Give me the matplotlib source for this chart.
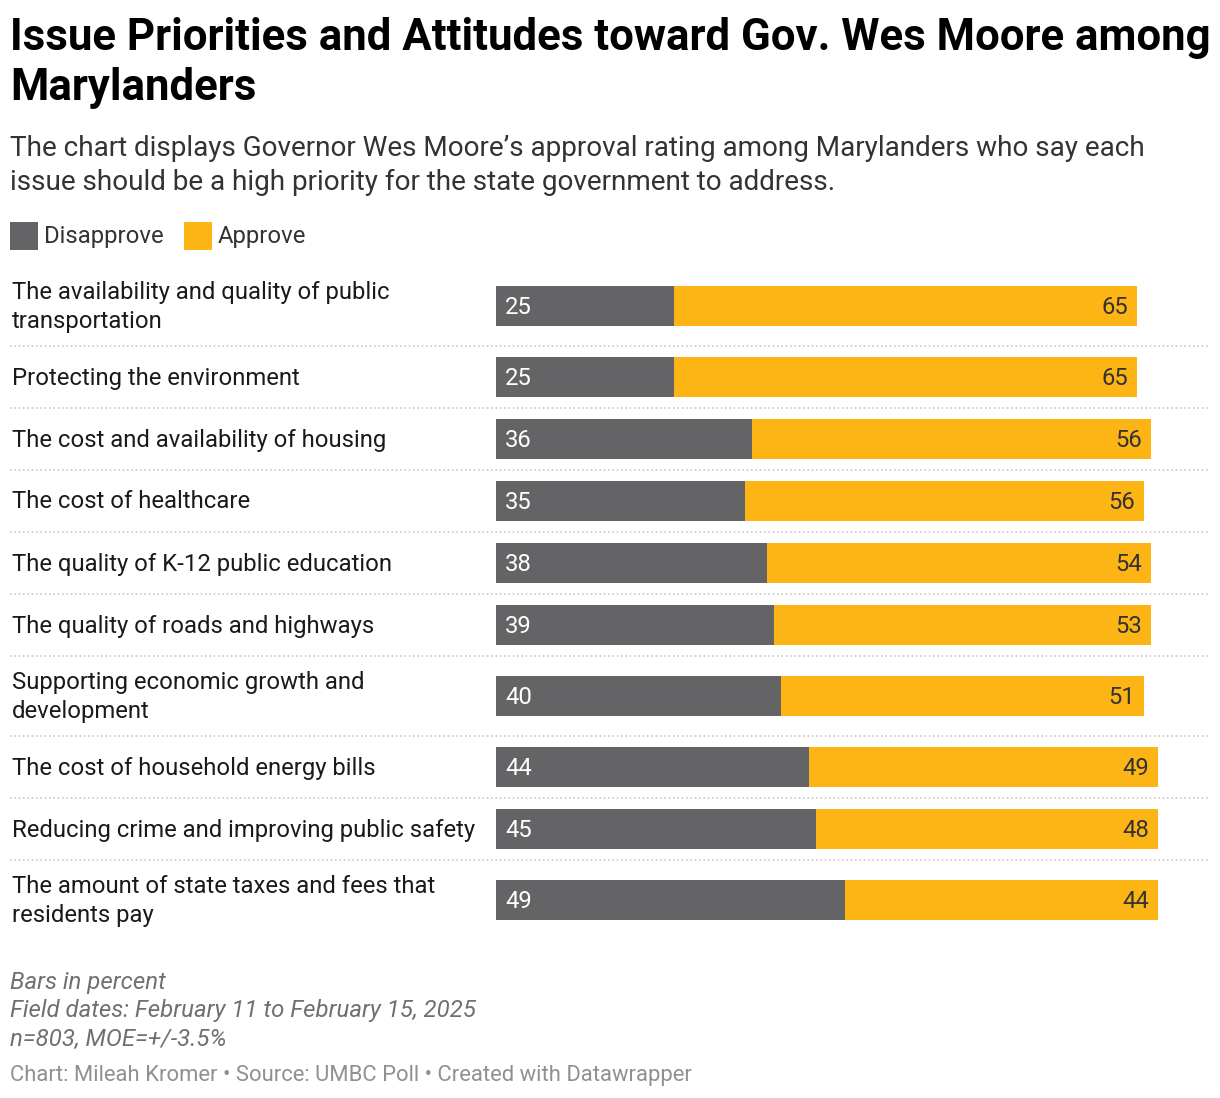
import matplotlib
matplotlib.use("Agg")
import matplotlib.pyplot as plt
from matplotlib.transforms import blended_transform_factory
from matplotlib.lines import Line2D
from matplotlib.patches import Rectangle

plt.rcParams['font.family'] = ['Roboto', 'DejaVu Sans']

categories = [
    "The availability and quality of public\ntransportation",
    "Protecting the environment",
    "The cost and availability of housing",
    "The cost of healthcare",
    "The quality of K-12 public education",
    "The quality of roads and highways",
    "Supporting economic growth and\ndevelopment",
    "The cost of household energy bills",
    "Reducing crime and improving public safety",
    "The amount of state taxes and fees that\nresidents pay",
]
disapprove = [25, 25, 36, 35, 38, 39, 40, 44, 45, 49]
approve = [65, 65, 56, 56, 54, 53, 51, 49, 48, 44]

C_DIS = "#646466"
C_APP = "#FDB515"

W, H = 1220, 1098
fig = plt.figure(figsize=(W / 100, H / 100), dpi=100)
fig.patch.set_facecolor("white")

def fx(px):
    return px / W

def fy(py):
    return 1 - py / H

# row layout (pixel units)
top = 266
heights = [80 if "\n" in c else 62 for c in categories]
centers = []
bounds = []
y = top
for h in heights:
    centers.append(y + h / 2)
    y += h
    bounds.append(y)
bottom = y

ax = fig.add_axes([fx(496), fy(bottom), fx(1208) - fx(496), (bottom - top) / H])
ax.set_xlim(0, 100)
ax.set_ylim(bottom, top)
ax.axis("off")

ax.barh(centers, disapprove, height=40, color=C_DIS, linewidth=0)
ax.barh(centers, approve, left=disapprove, height=40, color=C_APP, linewidth=0)

FS = 17.2
bt = blended_transform_factory(fig.transFigure, ax.transData)
for i, c in enumerate(categories):
    ax.text(fx(12), centers[i] + 1.0, c, transform=bt, ha="left", va="center",
            fontsize=FS, color="#1a1a1a", linespacing=1.34)
    ax.annotate(str(disapprove[i]), (0, centers[i]), xytext=(9, -1.5),
                textcoords="offset pixels", ha="left", va="center",
                fontsize=FS, color="white")
    ax.annotate(str(approve[i]), (disapprove[i] + approve[i], centers[i]),
                xytext=(-9, -1.5), textcoords="offset pixels", ha="right",
                va="center", fontsize=FS, color="#333333")

for b in bounds[:-1]:
    ax.add_line(Line2D([fx(10), fx(1208)], [b - 0.5, b - 0.5], transform=bt,
                       color="#c8c8c8", linewidth=1.2,
                       linestyle=(0, (1, 1.6)), clip_on=False))

# title and subtitle
fig.text(fx(10), fy(38), "Issue Priorities and Attitudes toward Gov. Wes Moore among",
         ha="left", va="center", fontsize=31.5, fontweight="bold", color="#000000")
fig.text(fx(10), fy(88), "Marylanders", ha="left", va="center", fontsize=31.5,
         fontweight="bold", color="#000000")
fig.text(fx(10), fy(148),
         "The chart displays Governor Wes Moore\u2019s approval rating among Marylanders who say each",
         ha="left", va="center", fontsize=20.1, color="#333333")
fig.text(fx(10), fy(182),
         "issue should be a high priority for the state government to address.",
         ha="left", va="center", fontsize=20.1, color="#333333")

# legend
for x0, col, lab in [(10, C_DIS, "Disapprove"), (184, C_APP, "Approve")]:
    fig.patches.append(Rectangle((fx(x0), fy(250)), 28 / W, 28 / H,
                                 transform=fig.transFigure, color=col, linewidth=0))
    fig.text(fx(x0 + 34), fy(237), lab, ha="left", va="center", fontsize=FS,
             color="#333333")

# notes
notes = ["Bars in percent", "Field dates: February 11 to February 15, 2025",
         "n=803, MOE=+/-3.5%"]
for i, n in enumerate(notes):
    fig.text(fx(10), fy(983 + 28 * i), n, ha="left", va="center", fontsize=17.3,
             style="italic", color="#707070")
fig.text(fx(10), fy(1075),
         "Chart: Mileah Kromer \u2022 Source: UMBC Poll \u2022 Created with Datawrapper",
         ha="left", va="center", fontsize=15.8, color="#909090")

fig.savefig("out.png", dpi=100)
